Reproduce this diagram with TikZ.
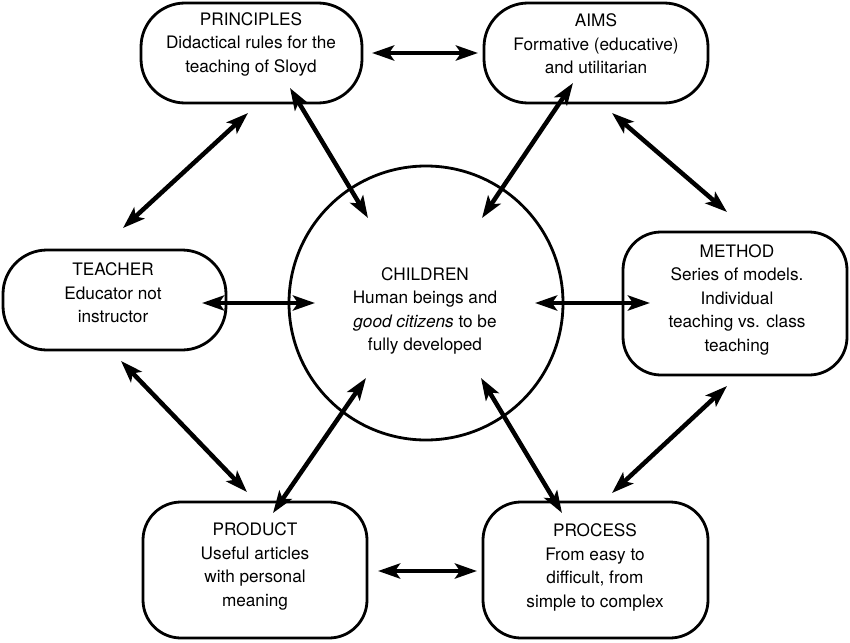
\documentclass[tikz,border=0pt]{standalone}
\usepackage{fontspec}
\setmainfont{TeX Gyre Heros}
\usetikzlibrary{arrows.meta,calc}
\begin{document}
\begin{tikzpicture}[x=1pt,y=-1pt,
  box/.style={draw,line width=2.8pt,rounded corners=38pt,inner sep=0pt},
  pill/.style={box,rounded corners=44pt},
  ring/.style={draw,circle,line width=2.8pt,inner sep=0pt},
  txt/.style={align=center,inner sep=0pt,font=\fontsize{17.2}{23.5}\selectfont},
  link/.style={line width=4.5pt,
    {Stealth[length=22pt,width=15pt,inset=5pt]}-{Stealth[length=22pt,width=15pt,inset=5pt]}}]
\useasboundingbox (0,0) rectangle (850,642);

% outer boxes and the central circle
\node[pill,minimum width=221pt,minimum height=100pt] (prin) at (251.5,53) {};
\node[pill,minimum width=224pt,minimum height=100pt] (aims) at (596,53) {};
\node[pill,minimum width=223pt,minimum height=100pt] (teach) at (114.5,300) {};
\node[box,minimum width=224pt,minimum height=143pt] (meth) at (735,303.5) {};
\node[box,minimum width=224pt,minimum height=136pt] (prod) at (255,570) {};
\node[box,minimum width=225pt,minimum height=136pt] (proc) at (595.5,570) {};
\node[ring,minimum size=274pt] (child) at (426,303) {};

% texts
\node[txt] (prin-t) at (251,44) {PRINCIPLES\\Didactical rules for the\\teaching of Sloyd};
\node[txt] (aims-t) at (596,44) {AIMS\\Formative (educative)\\and utilitarian};
\node[txt] (teach-t) at (113,293) {TEACHER\\Educator not\\instructor};
\node[txt] (meth-t) at (737,299.5) {METHOD\\Series of models.\\Individual\\teaching vs. class\\teaching};
\node[txt] (prod-t) at (255,566.5) {PRODUCT\\Useful articles\\with personal\\meaning};
\node[txt] (proc-t) at (595,567.5) {PROCESS\\From easy to\\difficult, from\\simple to complex};
\node[txt] (child-t) at (425,311) {CHILDREN\\Human beings and\\\textit{good citizens} to be\\fully developed};

% arrow end points
\coordinate (p-a) at (372,53);   \coordinate (a-p) at (478,53);
\coordinate (p-c) at (290,88);   \coordinate (c-p) at (368,218);
\coordinate (a-c) at (573,83);   \coordinate (c-a) at (482,218);
\coordinate (t-c) at (202,303);  \coordinate (c-t) at (315,303);
\coordinate (c-m) at (535,303);  \coordinate (m-c) at (650,303);
\coordinate (p-t) at (248,113);  \coordinate (t-p) at (123,228);
\coordinate (a-m) at (612,113);  \coordinate (m-a) at (727,212);
\coordinate (t-d) at (121,361);  \coordinate (d-t) at (247,492);
\coordinate (c-d) at (366,378);  \coordinate (d-c) at (273,513);
\coordinate (c-s) at (481,378);  \coordinate (s-c) at (562,513);
\coordinate (d-s) at (378,571);  \coordinate (s-d) at (477,571);
\coordinate (m-s) at (727,386);  \coordinate (s-m) at (612,493);

% double-headed connectors
\draw[link] (p-a) -- (a-p);
\draw[link] (p-c) -- (c-p);
\draw[link] (a-c) -- (c-a);
\draw[link] (t-c) -- (c-t);
\draw[link] (c-m) -- (m-c);
\draw[link] (p-t) -- (t-p);
\draw[link] (a-m) -- (m-a);
\draw[link] (t-d) -- (d-t);
\draw[link] (c-d) -- (d-c);
\draw[link] (c-s) -- (s-c);
\draw[link] (d-s) -- (s-d);
\draw[link] (m-s) -- (s-m);
\end{tikzpicture}
\end{document}
